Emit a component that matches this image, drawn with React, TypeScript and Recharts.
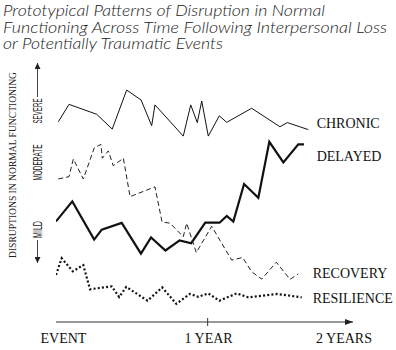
import React from 'react';
import { LineChart, Line, XAxis, YAxis } from 'recharts';

const titleLines = [
  'Prototypical Patterns of Disruption in Normal',
  'Functioning Across Time Following Interpersonal Loss',
  'or Potentially Traumatic Events',
];
const yAxisTitle = 'DISRUPTIONS IN NORMAL FUNCTIONING';
const severityLabels = ['SEVERE', 'MODERATE', 'MILD'];

const xTicks = [0, 12, 23.5];
const xTickLabels = ['EVENT', '1 YEAR', '2 YEARS'];

const chronicMonths = [0.18, 1.03, 3.22, 4.45, 5.59, 6.73, 7.57, 7.83, 10.07, 10.66, 11.18, 11.53, 12.05, 12.92, 13.51, 15.48, 17.72, 18.3, 19.96];
const chronicLevel = [7.7, 8.37, 7.99, 7.42, 8.92, 8.54, 7.55, 8.35, 7.15, 8.35, 7.67, 8.5, 7.15, 7.93, 7.68, 8.22, 7.51, 7.67, 7.4];

const delayedMonths = [0, 1.29, 3.02, 3.62, 5.2, 6.72, 7.52, 8.66, 9.78, 10.7, 11.81, 12.94, 13.51, 14.03, 14.88, 16.01, 16.88, 17.99, 19.17, 19.62];
const delayedLevel = [3.87, 4.64, 3.17, 3.55, 3.81, 2.63, 3.25, 2.75, 3.14, 3.03, 3.82, 3.82, 4.08, 3.86, 5.31, 4.78, 6.93, 6.14, 6.83, 6.83];

const recoveryMonths = [0.18, 1.03, 1.37, 2.16, 3.03, 3.56, 3.66, 4.14, 4.53, 5.33, 5.86, 7.83, 8.39, 9.02, 10.07, 10.34, 11.1, 12.32, 13.9, 14.76, 15.49, 16.28, 17.43, 18.52, 19.17];
const recoveryLevel = [5.5, 5.59, 6.27, 5.5, 6.7, 6.83, 6.3, 6.58, 6.01, 6.3, 4.82, 5.2, 3.85, 3.8, 3.28, 3.8, 2.67, 3.68, 2.38, 2.48, 1.93, 1.65, 2.3, 1.64, 1.85];

const resilienceMonths = [0, 0.45, 1.33, 2.16, 2.69, 4.41, 5.0, 5.56, 7.24, 8.4, 9.52, 10.6, 11.26, 12.05, 12.92, 14.3, 15.22, 17.46, 19.44];
const resilienceLevel = [1.81, 2.45, 1.95, 2.19, 1.26, 1.37, 0.96, 1.35, 0.82, 1.33, 0.7, 1.08, 0.97, 1.1, 0.82, 1.1, 0.95, 1.08, 0.95];

const toRows = (months: number[], level: number[]) => months.map((m, i) => ({ m, v: level[i] }));

const chronicData = toRows(chronicMonths, chronicLevel);
const delayedData = toRows(delayedMonths, delayedLevel);
const recoveryData = toRows(recoveryMonths, recoveryLevel);
const resilienceData = toRows(resilienceMonths, resilienceLevel);

const SERIF = '"Liberation Serif", "Times New Roman", serif';
const SANS = '"Liberation Sans", Arial, sans-serif';

const endLabel = (text: string, count: number, dx: number, dy: number) => (p: any) => {
  if (p.index !== count - 1) return <g key={`l${p.index}`} />;
  return (
    <text key={`l${p.index}`} x={p.x + dx} y={p.y + dy} fontFamily={SERIF} fontSize={14} fill="#111">
      {text}
    </text>
  );
};

const xTickDx = [7.5, 1, -9];

const XTick = (p: any) => {
  const i = xTicks.indexOf(p.payload.value);
  const last = i === xTicks.length - 1;
  return (
    <g>
      {p.payload.value === 12 && (
        <line x1={p.x} x2={p.x} y1={p.y - 4} y2={p.y + 4} stroke="#333" strokeWidth={1} />
      )}
      {last && <path d={`M${p.x},${p.y} l-8,-3 l0,6 z`} fill="#222" />}
      <text x={p.x + xTickDx[i]} y={p.y + 20.5} textAnchor="middle" fontFamily={SERIF} fontSize={14} fill="#111">
        {xTickLabels[i]}
      </text>
    </g>
  );
};

export default function App() {
  return (
    <div style={{ position: 'absolute', left: 0, top: 0, width: 396, height: 350, background: '#fff' }}>
      <svg width={0} height={0} style={{ position: 'absolute' }}>
        <defs>
          <marker id="arrowHead" viewBox="0 0 10 10" refX="10" refY="5" markerWidth="8" markerHeight="6" markerUnits="userSpaceOnUse" orient="auto">
            <path d="M0,0 L10,5 L0,10 z" fill="#222" />
          </marker>
        </defs>
      </svg>
      <LineChart
        width={396}
        height={350}
        margin={{ top: 62, right: 43, bottom: 0, left: 56 }}
        style={{ position: 'absolute', left: 0, top: 0 }}
      >
        <XAxis
          type="number"
          dataKey="m"
          domain={[0, 23.5]}
          ticks={xTicks}
          interval={0}
          height={28}
          tickSize={0}
          tickMargin={0}
          tickLine={false}
          tick={<XTick />}
          axisLine={{ stroke: '#333', strokeWidth: 1.2 }}
          allowDataOverflow
        />
        <YAxis
          type="number"
          dataKey="v"
          domain={[0, 10]}
          width={0}
          tick={false}
          tickLine={false}
          axisLine={{ stroke: '#777', strokeWidth: 1 }}
        />
        <Line data={chronicData} dataKey="v" type="linear" stroke="#111" strokeWidth={1} dot={false}
          isAnimationActive={false} label={endLabel('CHRONIC', chronicData.length, 8.4, -1.2)} />
        <Line data={delayedData} dataKey="v" type="linear" stroke="#111" strokeWidth={2.2} dot={false}
          isAnimationActive={false} label={endLabel('DELAYED', delayedData.length, 12.7, 16.4)} />
        <Line data={recoveryData} dataKey="v" type="linear" stroke="#222" strokeWidth={1} strokeDasharray="5 3" dot={false}
          isAnimationActive={false} label={endLabel('RECOVERY', recoveryData.length, 14.4, 4.3)} />
        <Line data={resilienceData} dataKey="v" type="linear" stroke="#111" strokeWidth={2.2} strokeDasharray="2 2.2" dot={false}
          isAnimationActive={false} label={endLabel('RESILIENCE', resilienceData.length, 11, 6)} />
      </LineChart>
      <svg width={396} height={350} style={{ position: 'absolute', left: 0, top: 0, pointerEvents: 'none' }}>
        {titleLines.map((t, i) => (
          <text key={t} x={3} y={16 + i * 16.5} fontFamily='Lato, "Noto Sans", sans-serif' fontStyle="italic" fontWeight={300}
            fontSize={15.5} fill="#222" textLength={[322, 384, 220][i]} lengthAdjust="spacingAndGlyphs">
            {t}
          </text>
        ))}
        <text x={12} y={165} transform="rotate(-90 12 165)" textAnchor="middle" dominantBaseline="central"
          fontFamily={SERIF} fontSize={11} fill="#222" textLength={186} lengthAdjust="spacingAndGlyphs">
          {yAxisTitle}
        </text>
        {severityLabels.map((s, i) => {
          const cy = [111, 162.5, 229.5][i];
          return (
            <text key={s} x={37.5} y={cy} transform={`rotate(-90 37.5 ${cy})`} textAnchor="middle" dominantBaseline="central"
              fontFamily={SANS} fontSize={12.5} fill="#222" textLength={[25, 36, 17][i]} lengthAdjust="spacingAndGlyphs">
              {s}
            </text>
          );
        })}
        <line x1={37.5} y1={97} x2={37.5} y2={63} stroke="#444" strokeWidth={1} markerEnd="url(#arrowHead)" />
        <line x1={37.5} y1={240} x2={37.5} y2={263} stroke="#444" strokeWidth={1} markerEnd="url(#arrowHead)" />
      </svg>
    </div>
  );
}
